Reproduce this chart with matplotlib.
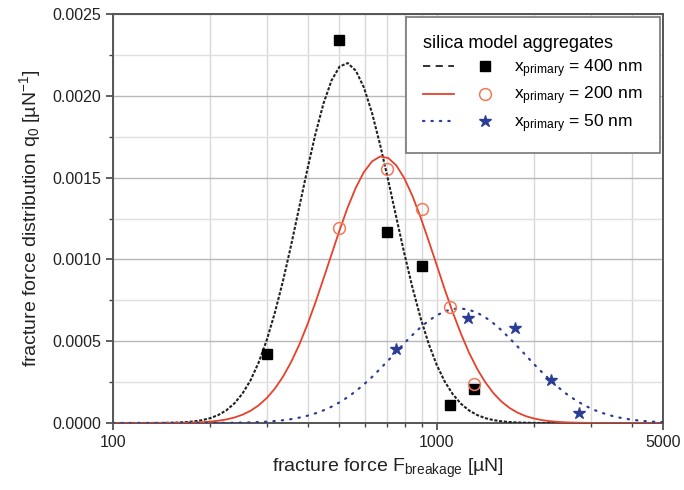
import matplotlib
matplotlib.use("Agg")
import matplotlib.pyplot as plt
from matplotlib.lines import Line2D
from matplotlib.legend_handler import HandlerTuple
from matplotlib.ticker import FixedLocator, NullFormatter, FixedFormatter

plt.rcParams["font.family"] = ["Liberation Sans", "DejaVu Sans"]
plt.rcParams["mathtext.fontset"] = "custom"
plt.rcParams["mathtext.rm"] = "Liberation Sans"
plt.rcParams["mathtext.it"] = "Liberation Sans:italic"

# fitted distribution curves, force in uN
force = [100, 126, 141,
         158.5, 167.9, 177.8, 188.4, 199.5, 211.3, 223.9, 237.1,
         251.2, 266.1, 281.8, 298.5, 316.2, 335.0, 354.8, 375.8,
         398.1, 421.7, 446.7, 473.2, 501.2, 530.9, 562.3, 595.7,
         631.0, 668.3, 707.9, 749.9, 794.3, 841.4, 891.3, 944.1,
         1000, 1059, 1122, 1189, 1259, 1334, 1413, 1496,
         1585, 1679, 1778, 1884, 1995, 2113, 2239, 2371,
         2512, 2661, 2818, 2985, 3162, 3350, 3548, 3758,
         3981, 4217, 4467, 4732, 5000]
q_400 = [0, 1.8e-7, 7.8e-7,
         2.96e-6, 5.5e-6, 9.9e-6, 1.74e-5, 2.95e-5, 4.85e-5, 7.74e-5, 1.199e-4,
         1.80e-4, 2.62e-4, 3.70e-4, 5.07e-4, 6.74e-4, 8.68e-4, 1.085e-3, 1.316e-3,
         1.547e-3, 1.764e-3, 1.952e-3, 2.094e-3, 2.179e-3, 2.200e-3, 2.154e-3, 2.051e-3,
         1.896e-3, 1.702e-3, 1.485e-3, 1.258e-3, 1.036e-3, 8.28e-4, 6.43e-4, 4.85e-4,
         3.55e-4, 2.53e-4, 1.75e-4, 1.17e-4, 7.66e-5, 4.85e-5, 2.98e-5, 1.78e-5,
         1.04e-5, 5.8e-6, 3.2e-6, 1.7e-6, 9e-7, 0, 0, 0,
         0, 0, 0, 0, 0, 0, 0, 0,
         0, 0, 0, 0, 0]
q_200 = [0, 7.7e-8, 2.9e-7,
         9.7e-7, 1.73e-6, 3.0e-6, 5.1e-6, 8.4e-6, 1.37e-5, 2.17e-5, 3.36e-5,
         5.08e-5, 7.5e-5, 1.081e-4, 1.525e-4, 2.10e-4, 2.83e-4, 3.72e-4, 4.77e-4,
         5.99e-4, 7.35e-4, 8.81e-4, 1.031e-3, 1.179e-3, 1.318e-3, 1.438e-3, 1.534e-3,
         1.599e-3, 1.629e-3, 1.620e-3, 1.575e-3, 1.496e-3, 1.388e-3, 1.258e-3, 1.114e-3,
         9.65e-4, 8.16e-4, 6.74e-4, 5.44e-4, 4.29e-4, 3.30e-4, 2.49e-4, 1.83e-4,
         1.31e-4, 9.2e-5, 6.3e-5, 4.2e-5, 2.78e-5, 1.78e-5, 1.11e-5, 6.8e-6,
         4.0e-6, 2.4e-6, 1.3e-6, 7e-7, 4e-7, 0, 0, 0,
         0, 0, 0, 0, 0]
q_50 = [0, 0, 0,
        0, 9e-8, 1.6e-7, 2.6e-7, 4.2e-7, 6.8e-7, 1.07e-6, 1.67e-6,
        2.56e-6, 3.9e-6, 5.7e-6, 8.4e-6, 1.21e-5, 1.71e-5, 2.38e-5, 3.27e-5,
        4.42e-5, 5.89e-5, 7.72e-5, 9.96e-5, 1.265e-4, 1.58e-4, 1.946e-4, 2.36e-4,
        2.81e-4, 3.31e-4, 3.82e-4, 4.35e-4, 4.88e-4, 5.38e-4, 5.85e-4, 6.25e-4,
        6.58e-4, 6.82e-4, 6.97e-4, 7.00e-4, 6.92e-4, 6.74e-4, 6.46e-4, 6.10e-4,
        5.67e-4, 5.18e-4, 4.67e-4, 4.14e-4, 3.61e-4, 3.11e-4, 2.63e-4, 2.19e-4,
        1.79e-4, 1.45e-4, 1.15e-4, 9.0e-5, 6.9e-5, 5.3e-5, 3.9e-5, 2.9e-5,
        2.1e-5, 1.49e-5, 1.04e-5, 7.2e-6, 5e-6]

# measured points
sq_x = [300, 500, 700, 900, 1100, 1300]
sq_y = [0.00042, 0.00234, 0.00117, 0.00096, 0.00011, 0.00021]
circ_x = [500, 700, 900, 1100, 1300]
circ_y = [0.00119, 0.00155, 0.00131, 0.00071, 0.00024]
star_x = [750, 1250, 1750, 2250, 2750]
star_y = [0.00045, 0.00064, 0.00058, 0.00026, 0.00006]

x_major = [100, 1000, 5000]
x_minor = [200, 300, 400, 500, 600, 700, 800, 900, 2000, 3000, 4000]
y_major = [0.0, 0.0005, 0.0010, 0.0015, 0.0020, 0.0025]
y_minor = [0.00025, 0.00075, 0.00125, 0.00175, 0.00225]

BLACK, RED, BLUE = "#222222", "#e8412b", "#2b3d94"
DOTS = (0, (0.6, 3.2))

fig = plt.figure(figsize=(6.84, 4.9), dpi=100)
ax = fig.add_axes([0.1652, 0.1367, 0.8041, 0.8347])

ax.plot(force, q_400, color=BLACK, lw=1.5, ls=(0, (1.5, 0.8)), zorder=3)
ax.plot(force, q_200, color=RED, lw=1.3, zorder=3)
ax.plot(force, q_50, color=BLUE, lw=1.6, ls=DOTS, dash_capstyle="round",
        zorder=3)
ax.plot(sq_x, sq_y, "s", color="black", ms=7, zorder=4)
ax.plot(circ_x, circ_y, "o", mfc="none", mec="#f07a58", mew=1.1, ms=8.5,
        zorder=5)
ax.plot(star_x, star_y, "*", color=BLUE, ms=9, zorder=5)

ax.set_xscale("log")
ax.set_xlim(100, 5000)
ax.set_ylim(0, 0.0025)
ax.xaxis.set_major_locator(FixedLocator(x_major))
ax.xaxis.set_major_formatter(FixedFormatter([str(v) for v in x_major]))
ax.xaxis.set_minor_locator(FixedLocator(x_minor))
ax.xaxis.set_minor_formatter(NullFormatter())
ax.yaxis.set_major_locator(FixedLocator(y_major))
ax.yaxis.set_major_formatter(FixedFormatter(["%.4f" % v for v in y_major]))
ax.yaxis.set_minor_locator(FixedLocator(y_minor))

ax.grid(which="major", axis="y", color="#b8b8b8", lw=1.0)
ax.grid(which="minor", axis="y", color="#e0e0e0", lw=1.0)
ax.grid(which="both", axis="x", color="#d8d8d8", lw=1.0)
ax.set_axisbelow(True)

for s in ax.spines.values():
    s.set_color("#555555")
    s.set_linewidth(1.4)
ax.tick_params(which="major", direction="out", length=5, width=1.2,
               color="#444444", labelsize=11.5, labelcolor="#222222")
ax.tick_params(which="minor", direction="out", length=3, width=1.0,
               color="#444444")

ax.set_xlabel(r"fracture force F$_{\mathrm{breakage}}$ [µN]", fontsize=14,
              color="#222222", labelpad=5)
ax.set_ylabel(r"fracture force distribution q$_{\mathrm{0}}$ [µN$^{\mathrm{-1}}$]",
              fontsize=14, color="#222222", labelpad=7)

# legend: line segment and marker side by side
h400 = (Line2D([], [], color=BLACK, lw=1.3, ls=(0, (4, 3))),
        Line2D([], [], marker="s", color="black", ls="none", ms=7))
h200 = (Line2D([], [], color=RED, lw=1.3),
        Line2D([], [], marker="o", mfc="none", mec="#f07a58", mew=1.1,
               ls="none", ms=8.5))
h50 = (Line2D([], [], color=BLUE, lw=1.6, ls=DOTS, dash_capstyle="round"),
       Line2D([], [], marker="*", color=BLUE, ls="none", ms=9))
labels = [r"x$_{\mathrm{primary}}$ = 400 nm", r"x$_{\mathrm{primary}}$ = 200 nm",
          r"x$_{\mathrm{primary}}$ = 50 nm"]
leg = ax.legend([h400, h200, h50], labels,
                handler_map={tuple: HandlerTuple(ndivide=None, pad=0.9)},
                title="silica model aggregates", title_fontsize=13,
                fontsize=12.5, loc="upper right", borderaxespad=0.2,
                borderpad=1.0, handlelength=4.4, handletextpad=0.8,
                labelspacing=0.3, fancybox=False, framealpha=1,
                edgecolor="#777777", alignment="left")
leg.get_frame().set_linewidth(1.2)

fig.savefig("out.png", dpi=100)
